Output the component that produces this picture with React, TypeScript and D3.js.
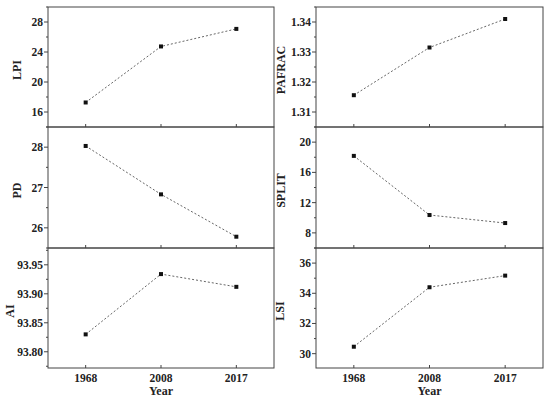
import React from "react";
import * as d3 from "d3";

const years = ["1968", "2008", "2017"];

const lpi = [17.27, 24.74, 27.08];
const pafrac = [1.3156, 1.3315, 1.341];
const pd = [28.03, 26.83, 25.78];
const split = [18.18, 10.36, 9.3];
const ai = [93.83, 93.934, 93.912];
const lsi = [30.46, 34.4, 35.17];

const lpiTicks = [16, 20, 24, 28];
const pafracTicks = [1.31, 1.32, 1.33, 1.34];
const pdTicks = [26, 27, 28];
const splitTicks = [8, 12, 16, 20];
const aiTicks = [93.8, 93.85, 93.9, 93.95];
const lsiTicks = [30, 32, 34, 36];

type Panel = {
  label: string;
  values: number[];
  domain: [number, number];
  ticks: number[];
  minorStep: number;
  fmt: (v: number) => string;
  col: number;
  row: number;
  labelDx: number;
};

const intFmt = (v: number) => d3.format("d")(v);
const f2 = (v: number) => d3.format(".2f")(v);

const panels: Panel[] = [
  { label: "LPI", values: lpi, domain: [14, 30], ticks: lpiTicks, minorStep: 2, fmt: intFmt, col: 0, row: 0, labelDx: 17 },
  { label: "PAFRAC", values: pafrac, domain: [1.305, 1.345], ticks: pafracTicks, minorStep: 0.005, fmt: f2, col: 1, row: 0, labelDx: 281 },
  { label: "PD", values: pd, domain: [25.5, 28.5], ticks: pdTicks, minorStep: 0.5, fmt: intFmt, col: 0, row: 1, labelDx: 17 },
  { label: "SPLIT", values: split, domain: [6, 22], ticks: splitTicks, minorStep: 2, fmt: intFmt, col: 1, row: 1, labelDx: 281 },
  { label: "AI", values: ai, domain: [93.772, 93.979], ticks: aiTicks, minorStep: 0.025, fmt: f2, col: 0, row: 2, labelDx: 10 },
  { label: "LSI", values: lsi, domain: [29.05, 37], ticks: lsiTicks, minorStep: 1, fmt: intFmt, col: 1, row: 2, labelDx: 280 },
];

const colX: [number, number][] = [
  [48, 274],
  [316, 543],
];
const rowY: [number, number][] = [
  [7, 127],
  [127, 248],
  [248, 368],
];

const font = "'Liberation Serif', 'Times New Roman', serif";
const frame = "#444";

function PanelView({ p }: { p: Panel }) {
  const [x0, x1] = colX[p.col];
  const [y0, y1] = rowY[p.row];
  const x = d3.scalePoint<string>().domain(years).range([x0, x1]).padding(0.5);
  const y = d3.scaleLinear().domain(p.domain).range([y1, y0]);
  const minors: number[] = [];
  const start = Math.ceil(p.domain[0] / p.minorStep - 1e-9);
  const end = Math.floor(p.domain[1] / p.minorStep + 1e-9);
  for (let i = start; i <= end; i++) {
    const v = +(i * p.minorStep).toFixed(6);
    if (!p.ticks.some((t) => Math.abs(t - v) < 1e-9)) minors.push(v);
  }
  const line = d3
    .line<number>()
    .x((_, i) => x(years[i]) as number)
    .y((d) => y(d));
  const isBottom = p.row === 2;
  return (
    <g>
      <rect x={x0} y={y0} width={x1 - x0} height={y1 - y0} fill="none" stroke={frame} strokeWidth={1} />
      {p.ticks.map((t) => (
        <g key={"t" + t}>
          <line x1={x0 - 4} x2={x0} y1={y(t)} y2={y(t)} stroke={frame} />
          <text x={x0 - 5} y={y(t)} dy="0.35em" textAnchor="end" fontFamily={font} fontWeight="bold" fontSize={11.5} fill="#222">
            {p.fmt(t)}
          </text>
        </g>
      ))}
      {minors.map((t) => (
        <line key={"m" + t} x1={x0 - 2} x2={x0} y1={y(t)} y2={y(t)} stroke={frame} />
      ))}
      {years.map((yr) => (
        <line key={"x" + yr} x1={x(yr)} x2={x(yr)} y1={y1} y2={y1 - 3} stroke={frame} />
      ))}
      {isBottom &&
        years.map((yr) => (
          <text key={"xl" + yr} x={x(yr)} y={382} textAnchor="middle" fontFamily={font} fontWeight="bold" fontSize={11.5} fill="#222">
            {yr}
          </text>
        ))}
      {isBottom && (
        <text x={(x0 + x1) / 2} y={395} textAnchor="middle" fontFamily={font} fontWeight="bold" fontSize={12} fill="#222">
          Year
        </text>
      )}
      <text
        transform={`translate(${p.labelDx},${(y0 + y1) / 2 + 3}) rotate(-90)`}
        dy="0.35em"
        textAnchor="middle"
        fontFamily={font}
        fontWeight="bold"
        fontSize={12}
        fill="#222"
      >
        {p.label}
      </text>
      <path d={line(p.values) || ""} fill="none" stroke="#555" strokeWidth={0.9} strokeDasharray="2,2" />
      {p.values.map((v, i) => (
        <rect key={"p" + i} x={(x(years[i]) as number) - 2} y={y(v) - 2} width={4} height={4} fill="#111" />
      ))}
    </g>
  );
}

export default function App() {
  return (
    <svg width={550} height={399} style={{ position: "absolute", left: 0, top: 0, background: "#fff" }}>
      <rect x={0} y={0} width={550} height={399} fill="#fff" />
      {panels.map((p) => (
        <PanelView key={p.label} p={p} />
      ))}
    </svg>
  );
}
